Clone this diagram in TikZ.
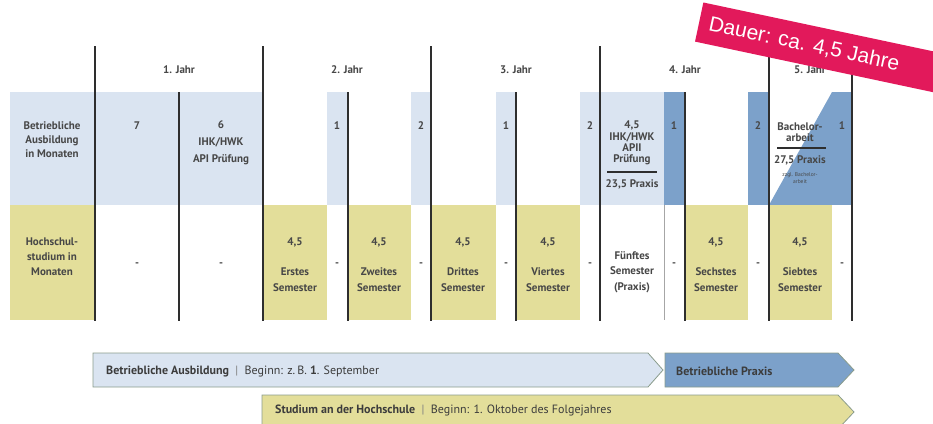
\documentclass[tikz,border=0pt]{standalone}
\usepackage{fontspec}
\setmainfont{PT Sans}
\newfontfamily\bannerfont{Liberation Sans}
\definecolor{lb}{HTML}{DAE4F1}
\definecolor{db}{HTML}{7CA1CA}
\definecolor{yl}{HTML}{E3DE9A}
\definecolor{crim}{HTML}{E2195B}
\definecolor{txt}{HTML}{474747}
\definecolor{ln}{HTML}{2E2E2E}
\definecolor{arrline}{HTML}{8A9C8C}
\begin{document}
\begin{tikzpicture}[x=1pt,y=-1pt,
  cell/.style={font=\bfseries\fontsize{11}{13}\selectfont, text=txt, align=center, inner sep=0pt},
  small/.style={font=\fontsize{5.5}{7}\selectfont, text=txt, align=center, inner sep=0pt},
  yr/.style={font=\bfseries\fontsize{11}{12}\selectfont, text=txt, inner sep=0pt},
  yline/.style={draw=ln, line width=1.3pt},
  hline/.style={draw=ln, line width=1.1pt},
  thinline/.style={draw=gray!70, line width=0.8pt},
  bar/.style={draw=arrline, line width=0.8pt},
  bartext/.style={font=\fontsize{12}{14}\selectfont, text=txt!85!black, anchor=west, inner sep=0pt}
]
\useasboundingbox (0,0) rectangle (933,423);
\begin{scope}
\clip (0,0) rectangle (933,423);
% row 1 fills
\fill[lb] (10,92) rectangle (263,205);
\fill[lb] (327,92) rectangle (348,205);
\fill[lb] (411,92) rectangle (431,205);
\fill[lb] (496,92) rectangle (516,205);
\fill[lb] (580,92) rectangle (664,205);
\fill[db] (664,92) rectangle (685,205);
\fill[db] (748,92) rectangle (769,205);
\fill[db] (769,205) -- (832,92) -- (832,205) -- cycle;
\fill[db] (832,92) rectangle (852,205);
% row 2 fills
\fill[yl] (10,205) rectangle (94,320);
\fill[yl] (263,205) rectangle (327,320);
\fill[yl] (348,205) rectangle (411,320);
\fill[yl] (431,205) rectangle (496,320);
\fill[yl] (516,205) rectangle (580,320);
\fill[yl] (685,205) rectangle (748,320);
\fill[yl] (769,205) rectangle (832,320);
% coordinates for lines
\foreach \x/\n in {95/a,263/b,431/c,600/d,769/e,852/f}{
  \coordinate (yt\n) at (\x,46); \coordinate (yb\n) at (\x,321);
}
\foreach \x/\n in {179/a,348/b,516/c,685/d}{
  \coordinate (ht\n) at (\x,92); \coordinate (hb\n) at (\x,321);
}
\coordinate (tt) at (664,205); \coordinate (tb) at (664,320);
\foreach \n in {a,b,c,d,e,f}{ \draw[yline] (yt\n) -- (yb\n); }
\foreach \n in {a,b,c,d}{ \draw[hline] (ht\n) -- (hb\n); }
\draw[thinline] (tt) -- (tb);
% year labels
\node[yr] (j1) at (179,70) {1. Jahr};
\node[yr] (j2) at (347,70) {2. Jahr};
\node[yr] (j3) at (516,70) {3. Jahr};
\node[yr] (j4) at (685,70) {4. Jahr};
\node[yr] (j5) at (810,70) {5. Jahr};
% row 1 text
\node[cell, font=\bfseries\fontsize{11}{14}\selectfont] (l1) at (52,140) {Betriebliche\\Ausbildung\\in Monaten};
\node[cell] (r1a) at (137,126) {7};
\node[cell, font=\bfseries\fontsize{11}{17}\selectfont] (r1b) at (221,143) {6\\IHK/HWK\\API Prüfung};
\node[cell] (r1c) at (337,126) {1};
\node[cell] (r1d) at (421,126) {2};
\node[cell] (r1e) at (506,126) {1};
\node[cell] (r1f) at (590,126) {2};
\node[cell, font=\bfseries\fontsize{11}{11.3}\selectfont] (r1g) at (632,143) {4,5\\IHK/HWK\\APII\\Prüfung};
\coordinate (g1) at (607,172); \coordinate (g2) at (657,172);
\draw[hline] (g1) -- (g2);
\node[cell] (r1g2) at (632,184) {23,5 Praxis};
\node[cell] (r1h) at (674,126) {1};
\node[cell] (r1i) at (758,126) {2};
\node[cell, font=\bfseries\fontsize{11}{11.5}\selectfont] (r1j) at (800,132) {Bachelor-\\arbeit};
\coordinate (h1) at (777,148); \coordinate (h2) at (826,148);
\draw[hline] (h1) -- (h2);
\node[cell] (r1j2) at (800,160) {27,5 Praxis};
\node[small] (r1j3) at (800,178) {zzgl. Bachelor-\\arbeit};
\node[cell] (r1k) at (842,126) {1};
% row 2 text
\node[cell, font=\bfseries\fontsize{11}{15}\selectfont] (l2) at (52,257) {Hochschul-\\studium in\\Monaten};
\foreach \x/\n in {137/a,221/b,337/c,421/d,506/e,590/f,674/g,758/h,842/i}{
  \node[cell] (d\n) at (\x,265) {-};
}
\foreach \x/\n/\t in {295/a/Erstes,379/b/Zweites,463/c/Drittes,548/d/Viertes,716/e/Sechstes,800/f/Siebtes}{
  \node[cell] (n\n) at (\x,242) {4,5};
  \node[cell, font=\bfseries\fontsize{11}{16}\selectfont] (s\n) at (\x,280) {\t\\Semester};
}
\node[cell, font=\bfseries\fontsize{11}{15.5}\selectfont] (s5) at (632,272) {Fünftes\\Semester\\(Praxis)};
% bottom bars
\fill[lb] (93,353) -- (648,353) -- (663,370) -- (648,387) -- (93,387) -- cycle;
\draw[bar] (93,353) -- (648,353) -- (663,370) -- (648,387) -- (93,387) -- cycle;
\fill[db] (665,353) -- (838,353) -- (854,370) -- (838,387) -- (665,387) -- cycle;
\draw[bar] (665,353) -- (838,353) -- (854,370) -- (838,387) -- (665,387) -- cycle;
\fill[yl] (262,395) -- (838,395) -- (854,412) -- (838,429) -- (262,429) -- cycle;
\draw[bar] (262,395) -- (838,395) -- (854,412) -- (838,429) -- (262,429) -- cycle;
\node[bartext] (ba) at (106,371) {\textbf{Betriebliche Ausbildung} \ {\color{gray}|} \ Beginn: z.\,B. \textbf{1}. September};
\node[bartext] (bp) at (676,371) {\textbf{Betriebliche Praxis}};
\node[bartext] (bs) at (275,410) {\textbf{Studium an der Hochschule} \ {\color{gray}|} \ Beginn: 1. Oktober des Folgejahres};
% banner
\node[fill=crim, rotate=-12, anchor=west, minimum height=40pt, minimum width=290pt, inner sep=0pt] (banner) at (699,22) {};
\node[rotate=-12, anchor=west, inner sep=0pt, text=white, font=\bannerfont\fontsize{21}{21}\selectfont] (bannertext) at (709,24) {Dauer: ca. 4,5 Jahre};
\end{scope}
\end{tikzpicture}
\end{document}
